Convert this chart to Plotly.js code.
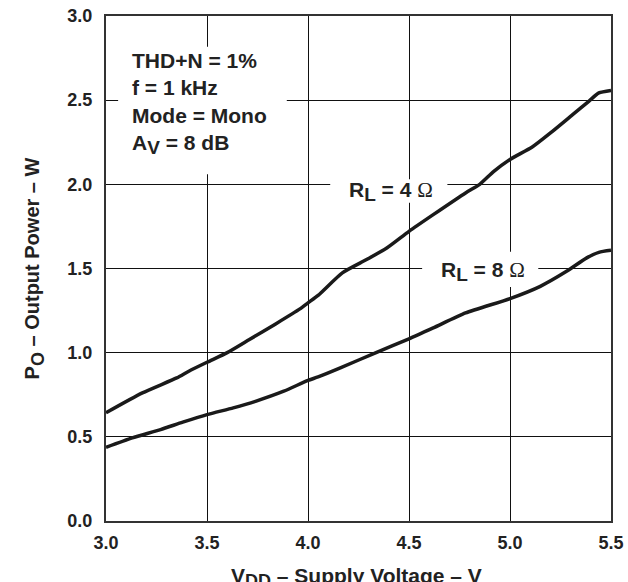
<!DOCTYPE html>
<html>
<head>
<meta charset="utf-8">
<script src="https://cdn.plot.ly/plotly-3.0.1.min.js"></script>
<style>html,body{margin:0;padding:0;background:#fff;}#chart{width:628px;height:582px;}</style>
</head>
<body>
<div id="chart"></div>
<script>
// R_L = 4 ohm curve
const vdd4 = [3.0, 3.18, 3.35, 3.41, 3.5, 3.6, 3.71, 3.84, 3.96, 4.0, 4.05, 4.17, 4.29, 4.39, 4.5, 4.62, 4.78, 4.85, 4.92, 5.0, 5.11, 5.21, 5.31, 5.39, 5.44, 5.5];
const po4  = [0.643, 0.761, 0.850, 0.89, 0.943, 1.0, 1.078, 1.171, 1.26, 1.296, 1.34, 1.474, 1.553, 1.622, 1.721, 1.820, 1.949, 2.0, 2.077, 2.148, 2.222, 2.315, 2.414, 2.493, 2.543, 2.558];
// R_L = 8 ohm curve
const vdd8 = [3.0, 3.13, 3.27, 3.38, 3.5, 3.63, 3.74, 3.88, 4.0, 4.05, 4.16, 4.34, 4.5, 4.62, 4.78, 5.0, 5.15, 5.28, 5.38, 5.44, 5.5];
const po8  = [0.438, 0.494, 0.543, 0.587, 0.632, 0.672, 0.711, 0.771, 0.835, 0.856, 0.910, 1.002, 1.082, 1.147, 1.236, 1.321, 1.394, 1.483, 1.563, 1.596, 1.608];

const xTicks = [3.0, 3.5, 4.0, 4.5, 5.0, 5.5];
const xTickLabels = ["3.0", "3.5", "4.0", "4.5", "5.0", "5.5"];
const yTicks = [0.0, 0.5, 1.0, 1.5, 2.0, 2.5, 3.0];
const yTickLabels = ["0.0", "0.5", "1.0", "1.5", "2.0", "2.5", "3.0"];

const FONT = "Liberation Sans, Arial, Helvetica, sans-serif";
const OMEGA = '<span style="font-family:\'Liberation Serif\',serif;font-weight:normal">Ω</span>';
const SUB = (s, px) => '<sub><span style="font-size:' + px + 'px">' + s + '</span></sub>';

const lineStyle = {color: '#1a1a1a', width: 3.5, shape: 'spline', smoothing: 0.6};

const traces = [
  {x: vdd4, y: po4, mode: 'lines', line: lineStyle, hoverinfo: 'skip', showlegend: false},
  {x: vdd8, y: po8, mode: 'lines', line: lineStyle, hoverinfo: 'skip', showlegend: false}
];

// white label backgrounds that break the grid (drawn between grid and curves)
const gap = (x0, x1, y0, y1) => ({type: 'rect', xref: 'x', yref: 'y', x0: x0, x1: x1, y0: y0, y1: y1,
  fillcolor: '#fff', line: {width: 0}, layer: 'between'});

const layout = {
  width: 628, height: 582,
  margin: {l: 106, r: 17, t: 16, b: 61},
  paper_bgcolor: '#fff', plot_bgcolor: '#fff',
  font: {family: FONT, color: '#222'},
  xaxis: {
    range: [3.0, 5.5], tickvals: xTicks, ticktext: xTickLabels,
    showgrid: true, gridcolor: '#111', gridwidth: 1,
    zeroline: false, showline: true, mirror: true, linecolor: '#333', linewidth: 2,
    ticks: '', tickfont: {family: FONT, size: 18, weight: 'bold', color: '#222'},
    ticklabelstandoff: 4,
    title: {text: ''},
    automargin: false, fixedrange: true
  },
  yaxis: {
    range: [0, 3.0], tickvals: yTicks, ticktext: yTickLabels,
    showgrid: true, gridcolor: '#111', gridwidth: 1,
    zeroline: false, showline: true, mirror: true, linecolor: '#333', linewidth: 2,
    ticks: '', tickfont: {family: FONT, size: 18, weight: 'bold', color: '#222'},
    ticklabelstandoff: 8,
    title: {text: '<b>P' + SUB('O', 18) + ' – Output Power – W</b>', font: {family: FONT, size: 20, color: '#222'}, standoff: 22},
    automargin: false, fixedrange: true
  },
  shapes: [
    gap(3.06, 3.895, 2.06, 2.818),
    gap(4.11, 4.69, 1.89, 2.03),
    gap(4.565, 5.14, 1.39, 1.60)
  ],
  annotations: [
    {x: 0.496, y: -0.082, xref: 'paper', yref: 'paper', xanchor: 'center', yanchor: 'top', showarrow: false,
     text: '<b>V' + SUB('DD', 18) + ' – Supply Voltage – V</b>',
     font: {family: FONT, size: 21, color: '#222'}},
    {x: 3.095, y: 2.845, xref: 'x', yref: 'y', xanchor: 'left', yanchor: 'top', align: 'left', showarrow: false,
     text: '<b>THD+N = 1%<br>f = 1 kHz<br>Mode = Mono<br>A' + SUB('V', 19) + ' = 8 dB</b>',
     font: {family: FONT, size: 21, color: '#222'}, borderpad: 6},
    {x: 4.41, y: 1.96, xref: 'x', yref: 'y', xanchor: 'center', yanchor: 'middle', showarrow: false,
     text: '<b>R' + SUB('L', 19) + ' = 4 </b>' + OMEGA,
     font: {family: FONT, size: 21, color: '#222'}},
    {x: 4.865, y: 1.48, xref: 'x', yref: 'y', xanchor: 'center', yanchor: 'middle', showarrow: false,
     text: '<b>R' + SUB('L', 19) + ' = 8 </b>' + OMEGA,
     font: {family: FONT, size: 21, color: '#222'}}
  ]
};

Plotly.newPlot('chart', traces, layout, {staticPlot: true, displayModeBar: false});
</script>
</body>
</html>
